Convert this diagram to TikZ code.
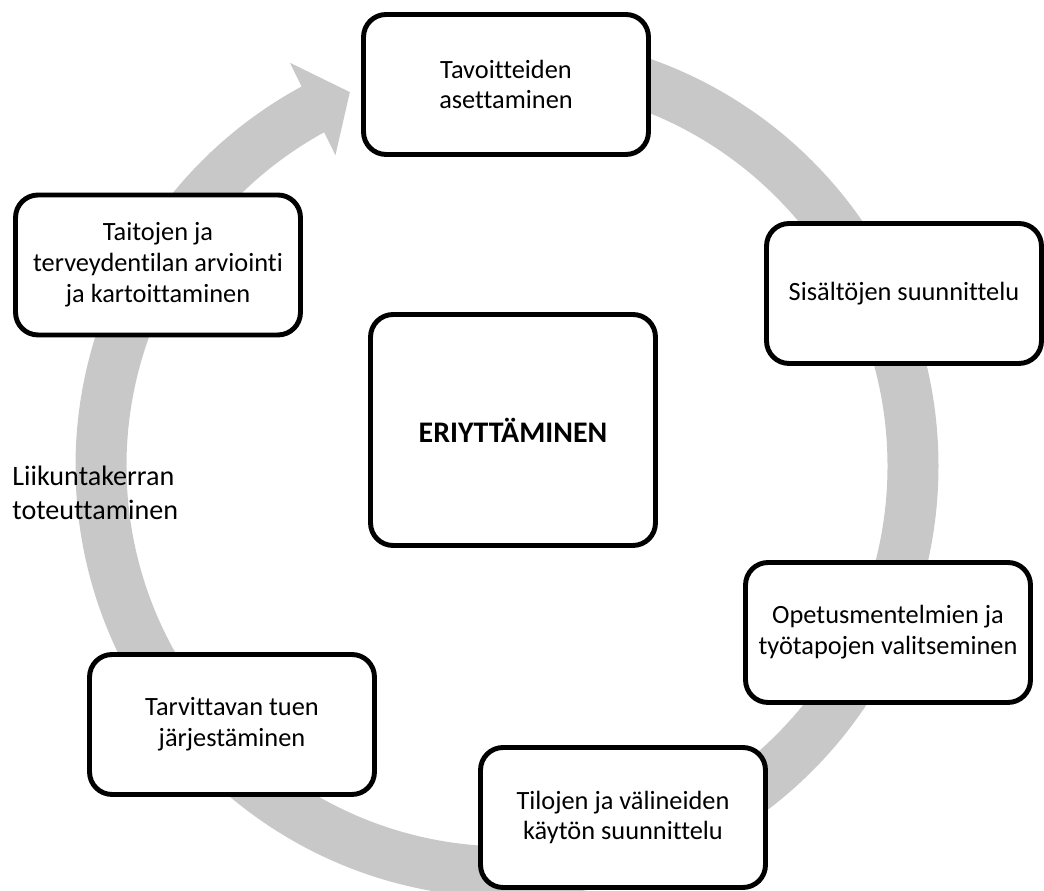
\documentclass[tikz,border=0pt]{standalone}
\usepackage{fontspec}
\setmainfont{Carlito}[Ligatures=NoCommon]
\definecolor{ringgray}{RGB}{200,200,200}
\tikzset{
  stage/.style={draw, line width=2.8pt, rounded corners=0.45cm, fill=white, align=center,
    minimum width=5.7cm, minimum height=2.8cm, inner sep=2pt},
  core/.style={stage, minimum height=4.62cm, font=\bfseries\fontsize{17}{19.5}\selectfont}
}
\begin{document}
\begin{tikzpicture}[x=0.02cm, y=0.02cm, font=\fontsize{15}{17.6}\selectfont]
\useasboundingbox (0,0) rectangle (1044,891);
\begin{scope}[shift={(507,425)}]
\draw[ringgray, line width=1.02cm] (90:406) arc[start angle=90, end angle=-243, radius=406];
\fill[ringgray] (118.3:458) -- (112.8:405.6) -- (118.9:355) -- cycle;
\end{scope}
\node[stage] (goals) at (506,806.5) {Tavoitteiden\\asettaminen};
\node[stage] (content) at (904,597.5) [minimum width=5.5cm] {Sisältöjen suunnittelu};
\node[stage] (methods) at (888,258.5) {Opetusmentelmien ja\\työtapojen valitseminen};
\node[stage] (facilities) at (623,73.5) {Tilojen ja välineiden\\käytön suunnittelu};
\node[stage] (support) at (232,166.5) {Tarvittavan tuen\\järjestäminen};
\node[stage] (assess) at (158,626) {Taitojen ja\\terveydentilan arviointi\\ja kartoittaminen};
\node[core] (diff) at (513,461) {ERIYTTÄMINEN};
\node[anchor=west, align=left, inner sep=0pt, font=\fontsize{16}{19.5}\selectfont] (run) at (12,398) {Liikuntakerran\\toteuttaminen};
\end{tikzpicture}
\end{document}
